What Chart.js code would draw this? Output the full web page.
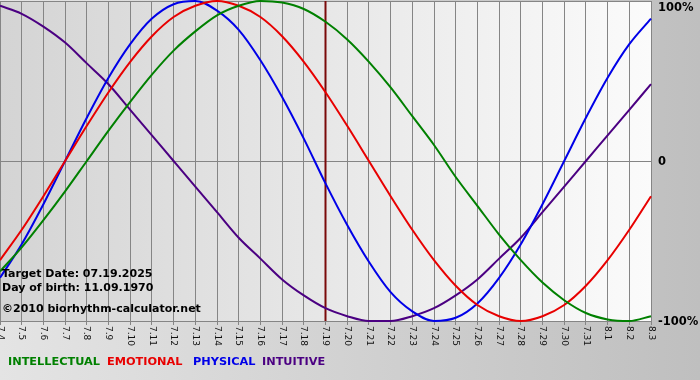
<!DOCTYPE html>
<html><head><meta charset="utf-8">
<script src="https://cdn.jsdelivr.net/npm/chart.js@4"></script>
<style>html,body{margin:0;padding:0;background:#d0d0d0;overflow:hidden}</style>
</head><body>
<canvas id="c" width="700" height="380"></canvas>
<script>
// ---- data ----
const dates = ['7.4','7.5','7.6','7.7','7.8','7.9','7.10','7.11','7.12','7.13','7.14','7.15','7.16','7.17','7.18','7.19','7.20','7.21','7.22','7.23','7.24','7.25','7.26','7.27','7.28','7.29','7.30','7.31','8.1','8.2','8.3'];
const intellectual = [-69,-54,-37,-19,0,19,37,54,69,81,91,97,100,99,95,87,76,62,46,28,10,-10,-28,-46,-62,-76,-87,-95,-99,-100,-97];
const emotional = [-62,-43,-22,0,22,43,62,78,90,97,100,97,90,78,62,43,22,0,-22,-43,-62,-78,-90,-97,-100,-97,-90,-78,-62,-43,-22];
const physical = [-73,-52,-27,0,27,52,73,89,98,100,94,82,63,40,14,-14,-40,-63,-82,-94,-100,-98,-89,-73,-52,-27,0,27,52,73,89];
const intuitive = [97,92,84,74,61,48,32,16,0,-16,-32,-48,-61,-74,-84,-92,-97,-100,-100,-97,-92,-84,-74,-61,-48,-32,-16,0,16,32,48];
const seriesNames = ['INTELLECTUAL','EMOTIONAL','PHYSICAL','INTUITIVE'];
const yTickValues = [100, 0, -100];
const yTickLabels = ['100%', '0', '-100%'];
const targetDate = '7.19';
const infoLines = ['Target Date: 07.19.2025', 'Day of birth: 11.09.1970', '\u00A92010 biorhythm-calculator.net'];

// ---- styles ----
const colors = ['#008000', '#e80000', '#0000e8', '#4b0082'];
const FONT = '"DejaVu Sans", Verdana, sans-serif';
const seriesData = [intellectual, emotional, physical, intuitive];

const deco = {
  id: 'deco',
  beforeDraw(chart) {
    const {ctx, chartArea: a, width, height} = chart;
    ctx.save();
    let g = ctx.createLinearGradient(0, 0, width, 0);
    g.addColorStop(0, '#e4e4e4'); g.addColorStop(1, '#bfbfbf');
    ctx.fillStyle = g; ctx.fillRect(0, 0, width, height);
    g = ctx.createLinearGradient(a.left, 0, a.right, 0);
    g.addColorStop(0, '#d4d4d4'); g.addColorStop(1, '#fbfbfb');
    ctx.fillStyle = g; ctx.fillRect(a.left, a.top, a.right - a.left, a.bottom - a.top);
    ctx.restore();
  },
  beforeDatasetsDraw(chart) {
    const {ctx, chartArea: a, scales: {x}} = chart;
    const px = x.getPixelForValue(dates.indexOf(targetDate));
    ctx.save();
    ctx.strokeStyle = '#7a0a0a'; ctx.lineWidth = 2;
    ctx.beginPath(); ctx.moveTo(px, a.top); ctx.lineTo(px, a.bottom); ctx.stroke();
    ctx.restore();
  },
  afterDraw(chart) {
    const {ctx, chartArea: a, scales: {x, y}} = chart;
    ctx.save();
    // x tick labels, rotated clockwise
    ctx.fillStyle = '#111';
    ctx.font = '9px ' + FONT;
    ctx.textAlign = 'left'; ctx.textBaseline = 'middle';
    dates.forEach((d, i) => {
      const px = x.getPixelForValue(i);
      ctx.save();
      ctx.translate(px, a.bottom + 5);
      ctx.rotate(Math.PI / 2);
      ctx.fillText(d, 0, 0);
      ctx.restore();
    });
    // y labels on the right
    ctx.font = 'bold 11.5px ' + FONT;
    ctx.fillStyle = '#000';
    yTickValues.forEach((v, i) => {
      let py = y.getPixelForValue(v);
      py = Math.max(py, a.top + 6) + 1;
      ctx.fillText(yTickLabels[i], a.right + 7, py);
    });
    // info text
    ctx.font = 'bold 11px ' + FONT;
    ctx.textBaseline = 'alphabetic';
    ctx.fillText(infoLines[0], 2, 277);
    ctx.fillText(infoLines[1], 2, 291);
    ctx.fillText(infoLines[2], 2, 312);
    // legend
    ctx.font = 'bold 11.3px ' + FONT;
    ctx.textBaseline = 'middle';
    const lx = [8, 107, 193, 262];
    chart.data.datasets.forEach((ds, i) => {
      ctx.fillStyle = ds.borderColor;
      ctx.fillText(ds.label, lx[i], 362);
    });
    ctx.restore();
  }
};

new Chart(document.getElementById('c'), {
  type: 'line',
  data: {
    labels: dates,
    datasets: seriesNames.map((n, i) => ({
      label: n,
      data: seriesData[i],
      borderColor: colors[i],
      borderWidth: 2,
      pointRadius: 0,
      cubicInterpolationMode: 'monotone',
      fill: false,
      clip: 2
    }))
  },
  options: {
    responsive: false,
    animation: false,
    events: [],
    layout: {padding: {top: 1, left: 0, right: 49, bottom: 55}},
    plugins: {legend: {display: false}, tooltip: {enabled: false}},
    scales: {
      x: {
        type: 'category',
        offset: false,
        grid: {color: '#858585', lineWidth: 1, drawTicks: true, tickLength: 4},
        border: {display: false},
        ticks: {display: false}
      },
      y: {
        position: 'right',
        min: -100, max: 100,
        grid: {color: '#858585', lineWidth: 1, drawTicks: false},
        border: {display: false},
        ticks: {display: false, stepSize: 100}
      }
    }
  },
  plugins: [deco]
});
</script>
</body></html>
